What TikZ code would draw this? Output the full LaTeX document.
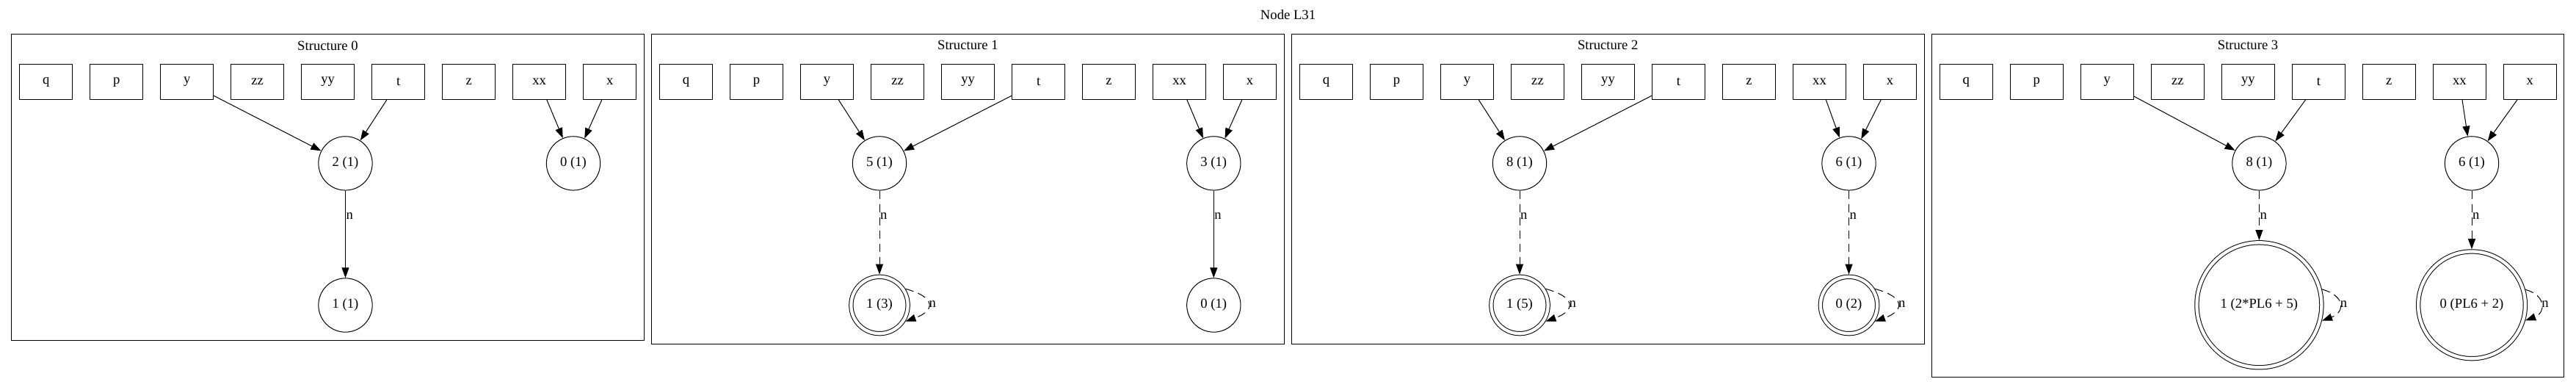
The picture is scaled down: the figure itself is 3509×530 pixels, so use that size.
\documentclass[tikz,border=0pt]{standalone}
\usepackage{fontspec}
\setmainfont{Liberation Serif}
\usetikzlibrary{arrows.meta}

\tikzset{
  var/.style={draw, rectangle, minimum width=54bp, minimum height=36bp, inner sep=0pt},
  state/.style={draw, circle, minimum size=55bp, inner sep=0pt},
  final/.style={draw, circle, double, double distance=3.25bp, outer sep=2.4bp, minimum size=58bp, inner sep=0pt},
  lbl/.style={anchor=west, inner sep=0.5bp},
  dedge/.style={->, dash pattern=on 8.5bp off 5bp},
  selfloop/.style={->, dash pattern=on 8.5bp off 5bp, out=-15, in=20},
}

\begin{document}
\begin{tikzpicture}[x=0.75bp, y=0.75bp, line width=0.75bp,
    >={Triangle[length=10.5bp, width=7.5bp]},
    font=\fontsize{14bp}{16bp}\selectfont]
    \useasboundingbox (0,0) rectangle (3509,530);

    % Title
    \node (title) at (1754.5,509.7) {Node L31};

    % Frames and variable boxes
    \foreach \s/\fx/\fb in {0/15.7/66.9, 1/887.6/61.1, 2/1759.5/61.1, 3/2631.3/16.1} {
        \draw (\fx,483.7) rectangle (\fx+861.5,\fb);
        \node (s\s) at (\fx+430.75,468.1) {Structure \s};
        \foreach \v [count=\k from 0] in {q,p,y,zz,yy,t,z,xx,x}
            \node[var] (\v\s) at (\fx+47+96*\k,418.4) {\v};
    }

    % Structure 0
    \node[state] (a0) at (470.5,307.6) {2 (1)};
    \node[state] (b0) at (781,307.6) {0 (1)};
    \node[state] (c0) at (470.5,114.5) {1 (1)};
    \draw[->] (a0) -- node[lbl, pos=0.29] (l0) {n} (c0);

    % Structure 1
    \node[state] (a1) at (1198,307.6) {5 (1)};
    \node[state] (b1) at (1653.3,307.6) {3 (1)};
    \node[final] (c1) at (1198,114.5) {1 (3)};
    \node[state] (d1) at (1653.3,114.5) {0 (1)};
    \draw[dedge] (a1) -- node[lbl, pos=0.30] (l1) {n} (c1);
    \draw[->] (b1) -- node[lbl, pos=0.29] (m1) {n} (d1);
    \draw[selfloop, looseness=2.5] (c1.32) to node[lbl] (k1) {n} (c1.-32);

    % Structure 2
    \node[state] (a2) at (2070,307.6) {8 (1)};
    \node[state] (b2) at (2518.5,307.6) {6 (1)};
    \node[final] (c2) at (2070,114.5) {1 (5)};
    \node[final] (d2) at (2518.5,114.5) {0 (2)};
    \draw[dedge] (a2) -- node[lbl, pos=0.30] (l2) {n} (c2);
    \draw[dedge] (b2) -- node[lbl, pos=0.30] (m2) {n} (d2);
    \draw[selfloop, looseness=2.5] (c2.32) to node[lbl] (k2) {n} (c2.-32);
    \draw[selfloop, looseness=2.5] (d2.32) to node[lbl] (j2) {n} (d2.-32);

    % Structure 3
    \node[state] (a3) at (3077.4,307.6) {8 (1)};
    \node[state] (b3) at (3367,307.6) {6 (1)};
    \node[final, minimum size=127.5bp] (c3) at (3077.4,114.7) {1 (2*PL6 + 5)};
    \node[final, minimum size=109.3bp] (d3) at (3367,114.7) {0 (PL6 + 2)};
    \draw[dedge] (a3) -- node[lbl, pos=0.51] (l3) {n} (c3);
    \draw[dedge] (b3) -- node[lbl, pos=0.43] (m3) {n} (d3);
    \draw[selfloop, looseness=2] (c3.14) to node[lbl] (k3) {n} (c3.-14);
    \draw[selfloop, looseness=1.8] (d3.16) to node[lbl] (j3) {n} (d3.-16);

    % Variables pointing to cells
    \foreach \s in {0,...,3} {
        \draw[->] (y\s) -- (a\s);
        \draw[->] (t\s) -- (a\s);
        \draw[->] (xx\s) -- (b\s);
        \draw[->] (x\s) -- (b\s);
    }
\end{tikzpicture}
\end{document}
